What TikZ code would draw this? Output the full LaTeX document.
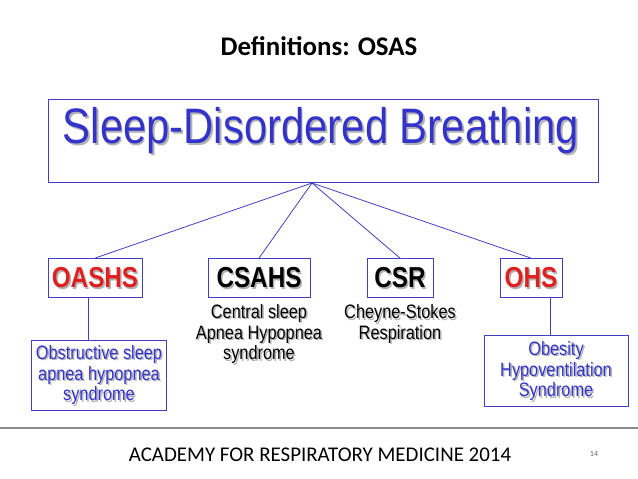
\documentclass[tikz,border=0pt]{standalone}
\usepackage{fontspec}
\setmainfont{Liberation Sans}[FakeStretch=0.84]
\newfontfamily\calib{Carlito}
\definecolor{boxblue}{RGB}{64,64,192}
\definecolor{txtblue}{RGB}{51,51,204}
\definecolor{hdred}{RGB}{224,32,32}
% text with a grey drop shadow: name, position, style, text
\newcommand{\shadowtext}[4]{%
  \node[#3, text=black!30] at ([shift={(1.5bp,-1.5bp)}]#2) {#4};
  \node[#3] (#1) at (#2) {#4};}
\begin{document}
\begin{tikzpicture}[x=1bp, y=1bp,
  abbr/.style={draw=boxblue, thick, minimum height=39bp, inner sep=3pt},
  abbrfont/.style={font=\fontsize{29}{30}\selectfont\bfseries},
  expl/.style={align=center, font=\fontsize{19.5}{21}\selectfont},
  link/.style={draw=boxblue, thick}]
  \useasboundingbox (0,0) rectangle (638,-479);
  % Title
  \node[font=\calib\fontsize{27}{30}\selectfont\bfseries] (title) at (319,-46) {Definitions: OSAS};
  % Main box
  \node[draw=boxblue, thick, minimum width=550bp, minimum height=83bp] (sdb) at (323,-141) {};
  \shadowtext{sdbtext}{321,-131}{font=\fontsize{50}{54}\selectfont, text=txtblue}{Sleep-Disordered Breathing}
  % Abbreviations
  \node[abbr, minimum width=94bp] (oashs) at (95,-278) {};
  \node[abbr, minimum width=102bp] (csahs) at (259,-278) {};
  \node[abbr, minimum width=66bp] (csr) at (400,-278) {};
  \node[abbr, minimum width=62bp] (ohs) at (531,-278) {};
  \shadowtext{oashslbl}{oashs}{abbrfont, text=hdred}{OASHS}
  \shadowtext{csahslbl}{csahs}{abbrfont}{CSAHS}
  \shadowtext{csrlbl}{csr}{abbrfont}{CSR}
  \shadowtext{ohslbl}{ohs}{abbrfont, text=hdred}{OHS}
  % Explanations
  \node[draw=boxblue, thick, minimum width=135bp, minimum height=70bp] (oashsdef) at (99,-375) {};
  \node[draw=boxblue, thick, minimum width=144bp, minimum height=71bp] (ohsdef) at (556,-371) {};
  \shadowtext{oashstxt}{oashsdef}{expl, text=txtblue}{Obstructive sleep\\apnea hypopnea\\syndrome}
  \shadowtext{ohstxt}{ohsdef}{expl, text=txtblue}{Obesity\\Hypoventilation\\Syndrome}
  \shadowtext{csahsdef}{259,-334}{expl}{Central sleep\\Apnea Hypopnea\\syndrome}
  \shadowtext{csrdef}{400,-324}{expl}{Cheyne-Stokes\\Respiration}
  % Connectors
  \coordinate (hub) at (312,-183);
  \draw[link] (hub) -- (oashs.north);
  \draw[link] (hub) -- (csahs.north);
  \draw[link] (hub) -- (csr.north);
  \draw[link] (hub) -- (ohs.north);
  \draw[link] (oashs.south -| 88,0) -- (oashsdef.north -| 88,0);
  \draw[link] (ohs.south -| 550,0) -- (ohsdef.north -| 550,0);
  % Footer
  \draw[draw=black!45, line width=1.5pt] (0,-428) -- (638,-428);
  \node[font=\calib\fontsize{21}{24}\selectfont] (footer) at (320,-455) {ACADEMY FOR RESPIRATORY MEDICINE 2014};
  \node[font=\calib\fontsize{8}{9}\selectfont, text=black!60] (page) at (594,-454) {14};
\end{tikzpicture}
\end{document}
